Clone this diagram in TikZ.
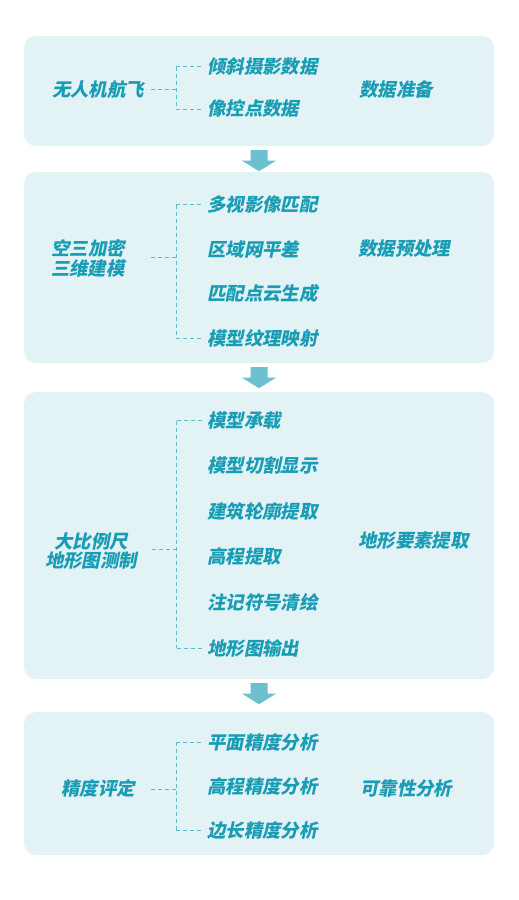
\documentclass[tikz,border=0pt]{standalone}
\usepackage{fontspec}
\usetikzlibrary{calc}
\IfFontExistsTF{Noto Sans CJK SC Black}
  {\newfontfamily\cjk{Noto Sans CJK SC Black}[FakeSlant=0.2]}
  {\IfFontExistsTF{Noto Sans CJK SC Bold}
    {\newfontfamily\cjk{Noto Sans CJK SC Bold}[FakeSlant=0.2,FakeBold=1.2]}
    {\newfontfamily\cjk{Noto Sans CJK SC}[FakeSlant=0.2,FakeBold=2.5]}}
\definecolor{txt}{RGB}{24,157,181}
\definecolor{boxfill}{RGB}{227,242,245}
\definecolor{arr}{RGB}{109,192,206}
\definecolor{dsh}{RGB}{93,188,201}
\begin{document}
\begin{tikzpicture}[x=1pt,y=-1pt,
  panel/.style={fill=boxfill, draw=none, rounded corners=12pt, minimum width=470pt, inner sep=0pt},
  cj/.style={font=\cjk\fontsize{18.4}{19.5}\selectfont, text=txt, inner sep=0pt},
  item/.style={cj, anchor=west},
  lbl/.style={cj, align=center},
  rlbl/.style={cj, anchor=west},
  dline/.style={draw=dsh, line width=1pt, dash pattern=on 4pt off 3pt},
  barrow/.style={fill=arr, draw=none}
]
\useasboundingbox (0,0) rectangle (519,900);
\fill[white] (0,0) rectangle (519,900);

% panels
\node[panel, minimum height=110pt] (b1) at (259,91) {};
\node[panel, minimum height=191pt] (b2) at (259,267.5) {};
\node[panel, minimum height=287pt] (b3) at (259,535.5) {};
\node[panel, minimum height=143pt] (b4) at (259,783.5) {};

% block arrows between panels
\foreach \a/\b in {b1/b2, b2/b3, b3/b4}{
  \fill[barrow] ($(\a.south)+(-8.5,4)$) -- ++(17,0) -- ++(0,10.5) -- ++(8.5,0)
     -- ++(-17,10.5) -- ++(-17,-10.5) -- ++(8.5,0) -- cycle;
}

% ---------- panel 1
\node[lbl] (l1) at (98,89.5) {无人机航飞};
\node[item] (i11) at (207,66.5) {倾斜摄影数据};
\node[item] (i12) at (207,109) {像控点数据};
\node[rlbl] (r1) at (359,90) {数据准备};
\coordinate (j1) at (176,89);
\draw[dline] (j1) -- ++(-26,0);
\draw[dline] (i11.west -| j1) -- (i12.west -| j1);
\draw[dline] (i11.west -| j1) -- ([xshift=-4.5pt]i11.west);
\draw[dline] (i12.west -| j1) -- ([xshift=-4.5pt]i12.west);

% ---------- panel 2
\node[lbl] (l2) at (88,258.5) {空三加密\\三维建模};
\node[item] (i21) at (207,204.5) {多视影像匹配};
\node[item] (i22) at (207,249) {区域网平差};
\node[item] (i23) at (207,293) {匹配点云生成};
\node[item] (i24) at (207,338) {模型纹理映射};
\node[rlbl] (r2) at (358,249) {数据预处理};
\coordinate (j2) at (176,257);
\draw[dline] (j2) -- ++(-26,0);
\draw[dline] (i21.west -| j2) -- (i24.west -| j2);
\draw[dline] (i21.west -| j2) -- ([xshift=-4.5pt]i21.west);
\draw[dline] (i24.west -| j2) -- ([xshift=-4.5pt]i24.west);

% ---------- panel 3
\node[lbl] (l3) at (91,551) {大比例尺\\地形图测制};
\node[item] (i31) at (207,420.5) {模型承载};
\node[item] (i32) at (207,466) {模型切割显示};
\node[item] (i33) at (207,511.5) {建筑轮廓提取};
\node[item] (i34) at (207,556.5) {高程提取};
\node[item] (i35) at (207,602) {注记符号清绘};
\node[item] (i36) at (207,648) {地形图输出};
\node[rlbl] (r3) at (358,540.5) {地形要素提取};
\coordinate (j3) at (176.5,549);
\draw[dline] (j3) -- ++(-26.5,0);
\draw[dline] (i31.west -| j3) -- (i36.west -| j3);
\draw[dline] (i31.west -| j3) -- ([xshift=-4.5pt]i31.west);
\draw[dline] (i36.west -| j3) -- ([xshift=-4.5pt]i36.west);

% ---------- panel 4
\node[lbl] (l4) at (98,788.5) {精度评定};
\node[item] (i41) at (207,742) {平面精度分析};
\node[item] (i42) at (207,786.5) {高程精度分析};
\node[item] (i43) at (207,830.5) {边长精度分析};
\node[rlbl] (r4) at (360,789) {可靠性分析};
\coordinate (j4) at (176,789);
\draw[dline] (j4) -- ++(-26,0);
\draw[dline] (i41.west -| j4) -- (i43.west -| j4);
\draw[dline] (i41.west -| j4) -- ([xshift=-4.5pt]i41.west);
\draw[dline] (i43.west -| j4) -- ([xshift=-4.5pt]i43.west);
\end{tikzpicture}
\end{document}
